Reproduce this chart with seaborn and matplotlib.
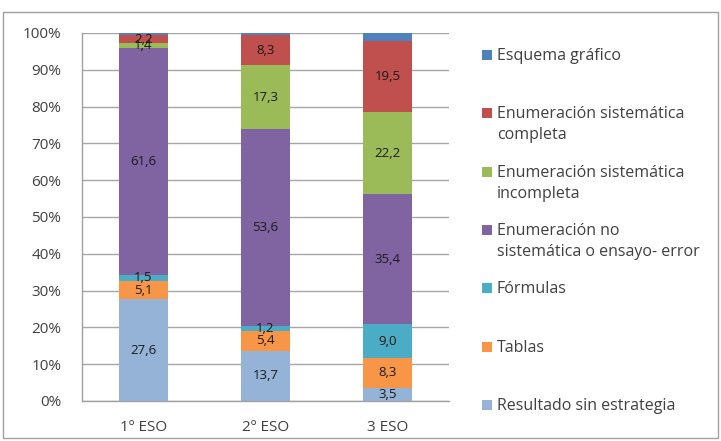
import matplotlib
matplotlib.use("Agg")
import matplotlib.pyplot as plt
import seaborn as sns
import pandas as pd
import numpy as np
from matplotlib.patches import Rectangle

categories = ["1º ESO", "2º ESO", "3 ESO"]
series = ["Resultado sin estrategia", "Tablas", "Fórmulas",
          "Enumeración no\nsistemática o ensayo- error",
          "Enumeración sistemática\nincompleta",
          "Enumeración sistemática\ncompleta",
          "Esquema gráfico"]
resultado = [27.6, 13.7, 3.5]
tablas = [5.1, 5.4, 8.3]
formulas = [1.5, 1.2, 9.0]
no_sistematica = [61.6, 53.6, 35.4]
sist_incompleta = [1.4, 17.3, 22.2]
sist_completa = [2.2, 8.3, 19.5]
esquema = [0.6, 0.5, 2.1]
yticks = [0, 10, 20, 30, 40, 50, 60, 70, 80, 90, 100]

values = [resultado, tablas, formulas, no_sistematica, sist_incompleta, sist_completa, esquema]
colors = ["#95B3D7", "#F79646", "#4BACC6", "#8064A2", "#9BBB59", "#C0504D", "#4F81BD"]
show_label = [True, True, True, True, True, True, False]

sns.set_style("white")
plt.rcParams["font.family"] = ["Open Sans", "DejaVu Sans"]

fig = plt.figure(figsize=(7.21, 4.41), dpi=100)
ax = fig.add_axes([82/721, 1-401/441, (449-82)/721, (401-33)/441])

vals = np.array(values)
cum = np.cumsum(vals, axis=0)
bottoms = cum - vals

# draw from top-most cumulative to bottom so lower segments overlay
for i in range(len(series)-1, -1, -1):
    df = pd.DataFrame({"cat": categories, "v": cum[i]})
    sns.barplot(data=df, x="cat", y="v", order=categories, color=colors[i],
                width=0.4, saturation=1, ax=ax, zorder=2, linewidth=0)

for i in range(len(series)):
    if not show_label[i]:
        continue
    for j in range(len(categories)):
        y = bottoms[i, j] + vals[i, j] / 2
        ax.text(j, y, f"{vals[i, j]:.1f}".replace(".", ","), ha="center", va="center",
                fontsize=9.5, color="#1a1a1a", zorder=5)

ax.set_ylim(0, 100)
ax.set_xlim(-0.5, 2.5)
ax.set_yticks(yticks)
ax.set_yticklabels([f"{t}%" for t in yticks])
ax.set_xticks([-0.5, 0.5, 1.5, 2.5], minor=False)
ax.set_xticklabels([])
ax.set_xticks([0, 1, 2], minor=True)
ax.set_xticklabels(categories, minor=True)
ax.tick_params(axis="x", which="minor", length=0, pad=14, labelsize=11, labelcolor="#404040")
ax.tick_params(axis="x", which="major", length=5, color="#A0A0A0", direction="out")
ax.tick_params(axis="y", length=5, color="#A0A0A0", direction="out", labelsize=11,
               labelcolor="#404040", pad=10)
ax.set_xlabel("")
ax.set_ylabel("")
ax.grid(axis="y", color="#A6A6A6", linewidth=1, zorder=0)
ax.set_axisbelow(True)
for s in ["top", "right"]:
    ax.spines[s].set_visible(False)
for s in ["left", "bottom"]:
    ax.spines[s].set_color("#A0A0A0")
    ax.spines[s].set_linewidth(1)

# legend drawn manually (top entry first)
leg_y = [55, 113, 172, 230, 288, 347, 405]
order = list(range(len(series)-1, -1, -1))
for k, i in enumerate(order):
    y = leg_y[k]
    fig.patches.append(Rectangle((482/721, 1-(y+5)/441), 10/721, 10/441,
                                 transform=fig.transFigure, facecolor=colors[i],
                                 edgecolor="none"))
    fig.text(497/721, 1-(y-7)/441, series[i], ha="left", va="top", fontsize=11.5,
             color="#404040", linespacing=1.45)

fig.patches.append(Rectangle((3/721, 3/441), 715/721, 426/441, transform=fig.transFigure,
                             facecolor="none", edgecolor="#A0A0A0", linewidth=1))

fig.savefig("out.png", dpi=100)
